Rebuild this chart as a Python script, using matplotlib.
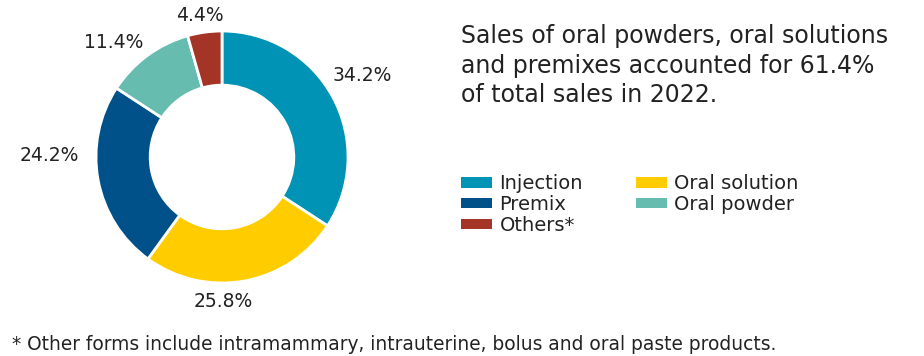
import numpy as np
import matplotlib.pyplot as plt
from matplotlib.patches import Patch

# sales share by product form, 2022
categories = ["Injection", "Oral solution", "Premix", "Oral powder", "Others*"]
shares = [34.2, 25.8, 24.2, 11.4, 4.4]
colors = ["#0093B6", "#FFCC00", "#00508A", "#66BDAF", "#A33426"]

# label placement: distance from centre (radius units) and angle nudge (deg)
label_dist = [1.29, 1.15, 1.37, 1.25, 1.14]
label_nudge = [1.6, -10, -11, 7, 1]

headline = "Sales of oral powders, oral solutions\nand premixes accounted for 61.4%\nof total sales in 2022."
footnote = "* Other forms include intramammary, intrauterine, bolus and oral paste products."

plt.rcParams['font.family'] = ['DejaVu Sans']
txt = "#222222"

fig = plt.figure(figsize=(9.24, 3.56), dpi=100)

# square axes, radius 1 ~ 126 px, centred at (222, 157) px from top-left
size = 378
ax = fig.add_axes([(222 - size / 2) / 924, (199 - size / 2) / 356, size / 924, size / 356])
wedges, _ = ax.pie(shares, colors=colors, startangle=90, counterclock=False,
                   radius=1.0, wedgeprops=dict(width=0.43, edgecolor="white", linewidth=2))
ax.set_xlim(-1.5, 1.5)
ax.set_ylim(-1.5, 1.5)
ax.set_aspect("equal")
ax.axis("off")

# percentage labels outside each wedge
for w, val, d, nd in zip(wedges, shares, label_dist, label_nudge):
    mid = np.deg2rad((w.theta1 + w.theta2) / 2 + nd)
    ax.text(d * np.cos(mid), d * np.sin(mid), f"{val}%", ha="center", va="center",
            fontsize=13.5, color=txt)

fig.text(461 / 924, 1 - 24 / 356, headline, ha="left", va="top", fontsize=17,
         color=txt, linespacing=1.3)

order = [0, 2, 4, 1, 3]
handles = [Patch(facecolor=colors[i], label=categories[i]) for i in order]
fig.legend(handles=handles, loc="upper left", bbox_to_anchor=(461 / 924, 1 - 174 / 356),
           borderaxespad=0, borderpad=0, ncol=2, frameon=False, fontsize=14,
           handlelength=1.6, handleheight=0.48, handletextpad=0.38,
           columnspacing=2.7, labelspacing=0.1, labelcolor=txt)

fig.text(12 / 924, 1 - 344 / 356, footnote, ha="left", va="center", fontsize=13.4,
         color=txt)

fig.savefig("out.png", dpi=100)
